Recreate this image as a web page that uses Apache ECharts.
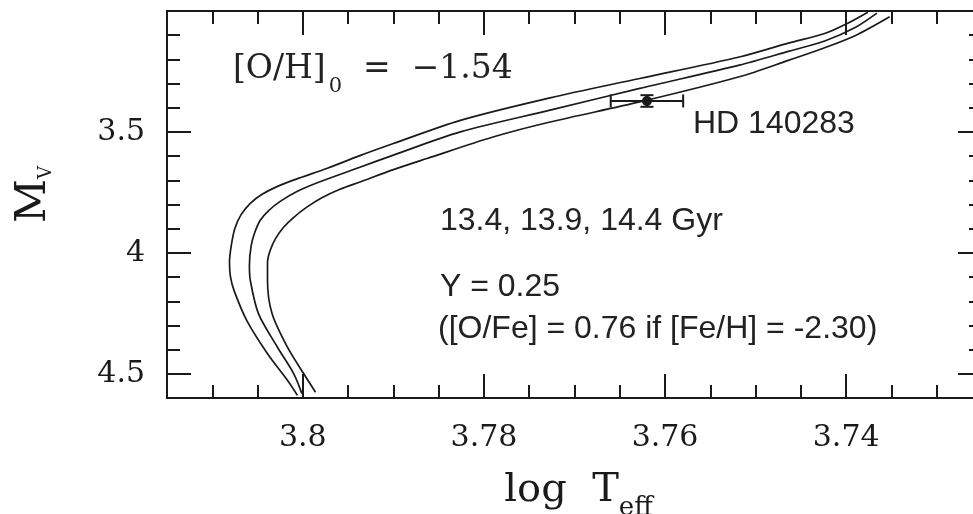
<!DOCTYPE html>
<html>
<head>
<meta charset="utf-8">
<script src="https://cdn.jsdelivr.net/npm/echarts@6.0.0/dist/echarts.min.js"></script>
<style>
  html, body { margin: 0; padding: 0; background: #fff; }
  #main { width: 973px; height: 514px; }
</style>
</head>
<body>
<div id="main"></div>
<script>
// isochrones [log Teff, Mv]
var iso134 = [
  [3.8006, 4.589], [3.8017, 4.527], [3.8039, 4.417], [3.8062, 4.279], [3.8076, 4.155],
  [3.8080, 4.097], [3.8081, 4.039], [3.8079, 3.969], [3.8075, 3.898], [3.8068, 3.841],
  [3.8058, 3.795], [3.8045, 3.758], [3.8028, 3.725], [3.8008, 3.696], [3.7973, 3.650],
  [3.7937, 3.598], [3.7900, 3.548], [3.7826, 3.452], [3.7727, 3.359], [3.7628, 3.279],
  [3.7518, 3.190], [3.7463, 3.132], [3.7423, 3.092], [3.7400, 3.054], [3.7376, 3.005]
];
var iso139 = [
  [3.8001, 4.582], [3.8010, 4.500], [3.8028, 4.390], [3.8049, 4.251], [3.8058, 4.114],
  [3.8059, 4.052], [3.8057, 3.969], [3.8053, 3.915], [3.8047, 3.865], [3.8038, 3.826],
  [3.8025, 3.787], [3.8007, 3.747], [3.7984, 3.710], [3.7937, 3.646], [3.7900, 3.596],
  [3.7826, 3.500], [3.7727, 3.410], [3.7628, 3.320], [3.7518, 3.224], [3.7463, 3.166],
  [3.7423, 3.123], [3.7389, 3.066], [3.7366, 3.009]
];
var iso144 = [
  [3.7986, 4.576], [3.7999, 4.500], [3.8017, 4.390], [3.8034, 4.251], [3.8039, 4.114],
  [3.8039, 4.039], [3.8036, 3.989], [3.8030, 3.940], [3.8021, 3.893], [3.8010, 3.853],
  [3.7996, 3.812], [3.7979, 3.772], [3.7959, 3.737], [3.7937, 3.707], [3.7900, 3.656],
  [3.7863, 3.610], [3.7790, 3.521], [3.7727, 3.459], [3.7628, 3.376], [3.7518, 3.272],
  [3.7463, 3.203], [3.7426, 3.155], [3.7389, 3.100], [3.7352, 3.024]
];

// star: [log Teff, Mv, err Teff, err Mv]
var starName = 'HD 140283';
var star = [[3.762, 3.372, 0.004, 0.024]];

var xMajor = [3.80, 3.78, 3.76, 3.74];
var xMinor = [3.81, 3.805, 3.795, 3.79, 3.785, 3.775, 3.77, 3.765, 3.755, 3.75, 3.745, 3.735, 3.73];
var yMajor = [3.5, 4, 4.5];
var yMinor = [3.1, 3.2, 3.3, 3.4, 3.6, 3.7, 3.8, 3.9, 4.1, 4.2, 4.3, 4.4];

var ink = '#1a1a1a';
var serif = 'DejaVu Serif';
var sans = 'Liberation Sans';

var myChart = echarts.init(document.getElementById('main'));

function xAx(grid, pos, ticks, len, labels) {
  return {
    type: 'value', gridIndex: grid, position: pos,
    min: 3.725, max: 3.815, inverse: true,
    axisLine: { show: true, onZero: false, lineStyle: { color: ink, width: 2 } },
    axisTick: { show: true, inside: true, length: len, customValues: ticks, lineStyle: { color: ink, width: 2 } },
    axisLabel: { show: labels, customValues: xMajor, margin: 25, color: ink, fontFamily: serif, fontSize: 30 },
    splitLine: { show: false }
  };
}
function yAx(grid, pos, ticks, len, labels) {
  return {
    type: 'value', gridIndex: grid, position: pos,
    min: 3, max: 4.6, inverse: true,
    axisLine: { show: true, onZero: false, lineStyle: { color: ink, width: 2 } },
    axisTick: { show: true, inside: true, length: len, customValues: ticks, lineStyle: { color: ink, width: 2 } },
    axisLabel: { show: labels, customValues: yMajor, margin: 22, color: ink, fontFamily: serif, fontSize: 30 },
    splitLine: { show: false }
  };
}

var xBottom = xAx(0, 'bottom', xMajor, 24, true);
xBottom.name = '{a|log  T}{b|eff}';
xBottom.nameLocation = 'middle';
xBottom.nameGap = 63;
xBottom.nameTextStyle = {
  rich: {
    a: { fontFamily: serif, fontSize: 40, color: ink, padding: [0, 0, 0, 8] },
    b: { fontFamily: serif, fontSize: 26, color: ink, padding: [34, 0, 0, 0] }
  }
};

var yLeft = yAx(0, 'left', yMajor, 24, true);
yLeft.name = '{a|M}{b|V}';
yLeft.nameLocation = 'middle';
yLeft.nameRotate = 90;
yLeft.nameGap = 112;
yLeft.nameTextStyle = {
  rich: {
    a: { fontFamily: serif, fontSize: 43, color: ink, padding: [0, 0, 0, 20] },
    b: { fontFamily: serif, fontSize: 18, color: ink, padding: [25, 0, 0, 0] }
  }
};

function curve(name, data) {
  return {
    name: name, type: 'line', xAxisIndex: 0, yAxisIndex: 0,
    data: data, showSymbol: false, smooth: 0.3,
    lineStyle: { color: ink, width: 1.7 }
  };
}

option = {
  animation: false,
  backgroundColor: '#fff',
  grid: [
    { left: 167, right: -9, top: 11, bottom: 116, outerBoundsMode: 'none' },
    { left: 167, right: -9, top: 11, bottom: 116, outerBoundsMode: 'none' }
  ],
  xAxis: [
    xBottom,
    xAx(0, 'top', xMajor, 24, false),
    xAx(1, 'bottom', xMinor, 13, false),
    xAx(1, 'top', xMinor, 13, false)
  ],
  yAxis: [
    yLeft,
    yAx(0, 'right', yMajor, 24, false),
    yAx(1, 'left', yMinor, 13, false),
    yAx(1, 'right', yMinor, 13, false)
  ],
  series: [
    curve('13.4 Gyr', iso134),
    curve('13.9 Gyr', iso139),
    curve('14.4 Gyr', iso144),
    {
      type: 'custom', xAxisIndex: 0, yAxisIndex: 0,
      renderItem: function (params, api) {
        var x = api.value(0), y = api.value(1), dx = api.value(2), dy = api.value(3);
        var l = api.coord([x + dx, y]), r = api.coord([x - dx, y]);
        var t = api.coord([x, y - dy]), b = api.coord([x, y + dy]);
        var c = 6.5;
        var st = { stroke: ink, lineWidth: 2 };
        return {
          type: 'group',
          children: [
            { type: 'line', shape: { x1: l[0], y1: l[1], x2: r[0], y2: r[1] }, style: st },
            { type: 'line', shape: { x1: l[0], y1: l[1] - c, x2: l[0], y2: l[1] + c }, style: st },
            { type: 'line', shape: { x1: r[0], y1: r[1] - c, x2: r[0], y2: r[1] + c }, style: st },
            { type: 'line', shape: { x1: t[0], y1: t[1], x2: b[0], y2: b[1] }, style: { stroke: ink, lineWidth: 3 } },
            { type: 'line', shape: { x1: t[0] - c, y1: t[1], x2: t[0] + c, y2: t[1] }, style: st },
            { type: 'line', shape: { x1: b[0] - c, y1: b[1], x2: b[0] + c, y2: b[1] }, style: st }
          ]
        };
      },
      data: star
    },
    {
      type: 'scatter', xAxisIndex: 0, yAxisIndex: 0,
      symbol: 'circle', symbolSize: 10,
      itemStyle: { color: ink, opacity: 1 },
      label: {
        show: true, position: 'right', distance: 41, offset: [0, 23],
        formatter: starName, fontFamily: sans, fontSize: 32, color: '#222'
      },
      data: star.map(function (d) { return [d[0], d[1]]; })
    }
  ],
  graphic: [
    {
      type: 'text', x: 233, y: 69,
      style: {
        text: '{m|[O/H]}{s|0}{m|  =  \u22121.54}',
        verticalAlign: 'middle',
        rich: {
          m: { fontFamily: serif, fontSize: 33, fill: '#222' },
          s: { fontFamily: serif, fontSize: 21, fill: '#222', padding: [36, 0, 0, 3] }
        }
      }
    },
    {
      type: 'text', x: 440, y: 221,
      style: { text: '13.4, 13.9, 14.4 Gyr', fontFamily: sans, fontSize: 32, fill: '#222', verticalAlign: 'middle' }
    },
    {
      type: 'text', x: 440, y: 287,
      style: { text: 'Y = 0.25', fontFamily: sans, fontSize: 32, fill: '#222', verticalAlign: 'middle' }
    },
    {
      type: 'text', x: 438, y: 329,
      style: { text: '([O/Fe] = 0.76 if [Fe/H] = -2.30)', fontFamily: sans, fontSize: 32, fill: '#222', verticalAlign: 'middle' }
    }
  ]
};

myChart.setOption(option);
</script>
</body>
</html>
